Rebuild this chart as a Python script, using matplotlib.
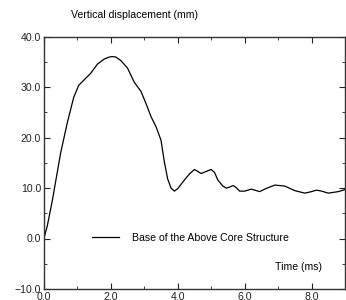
import numpy as np
import matplotlib
matplotlib.use('Agg')
import matplotlib.pyplot as plt

# values
time_ms = [0.0, 0.1, 0.25, 0.5, 0.7, 0.89, 1.04, 1.19, 1.4, 1.6, 1.8, 1.95, 2.05, 2.15,
           2.3, 2.5, 2.7, 2.9, 3.05, 3.2, 3.35, 3.5, 3.6, 3.7, 3.8, 3.9, 4.0, 4.2, 4.35,
           4.5, 4.6, 4.7, 4.85, 5.0, 5.1, 5.2, 5.35, 5.45, 5.55, 5.66, 5.75, 5.85, 6.0,
           6.2, 6.3, 6.45, 6.6, 6.9, 7.2, 7.5, 7.8, 8.0, 8.15, 8.3, 8.5, 8.8, 9.05]
displacement = [0.0, 2.5, 7.5, 17.0, 23.0, 28.0, 30.4, 31.4, 32.8, 34.6, 35.6, 36.0, 36.1, 36.0,
                35.3, 33.8, 31.0, 29.2, 26.8, 24.2, 22.2, 19.5, 15.2, 11.8, 10.0, 9.4, 9.9, 11.6, 12.8,
                13.7, 13.3, 12.9, 13.3, 13.7, 13.1, 11.6, 10.4, 10.0, 10.2, 10.5, 10.1, 9.4, 9.4,
                9.8, 9.6, 9.3, 9.8, 10.6, 10.4, 9.5, 9.0, 9.3, 9.6, 9.4, 9.0, 9.3, 9.8]

series_label = 'Base of the Above Core Structure'
x_ticks = [0.0, 2.0, 4.0, 6.0, 8.0]
y_ticks = [-10.0, 0.0, 10.0, 20.0, 30.0, 40.0]

plt.rcParams['font.family'] = ['Liberation Sans', 'DejaVu Sans']
plt.rcParams['font.size'] = 7.6

fig = plt.figure(figsize=(3.46, 3.0), dpi=100)
ax = fig.add_axes([0.127, 0.037, 0.870, 0.840])

ax.plot(time_ms, displacement, color='black', lw=0.9, label=series_label)

ax.set_xlim(0, 9.0)
ax.set_ylim(-10, 40)
ax.set_xticks(x_ticks)
ax.set_xticks([1, 3, 5, 7, 9], minor=True)
ax.set_yticks(y_ticks)
ax.set_yticks([-5, 5, 15, 25, 35], minor=True)
ax.set_xticklabels(['%.1f' % v for v in x_ticks])
ax.set_yticklabels(['\u2212%.1f' % -v if v < 0 else '%.1f' % v for v in y_ticks])
ax.tick_params(which='both', direction='in', top=True, right=True, colors='#222222', labelsize=7.6)
ax.tick_params(which='major', length=4, width=0.8, pad=2)
ax.tick_params(which='minor', length=2.5, width=0.6)
for s in ax.spines.values():
    s.set_linewidth(1.0)
    s.set_color('#333333')

ax.legend(loc='center left', bbox_to_anchor=(0.142, 0.202), frameon=False, borderpad=0,
          handlelength=2.6, handletextpad=1.2, fontsize=7.6)
ax.text(0.924, 0.087, 'Time (ms)', transform=ax.transAxes, ha='right', va='center', fontsize=7.6)
fig.text(0.39, 0.95, 'Vertical displacement (mm)', ha='center', va='center', fontsize=7.6)

fig.savefig('out.png', dpi=100)
